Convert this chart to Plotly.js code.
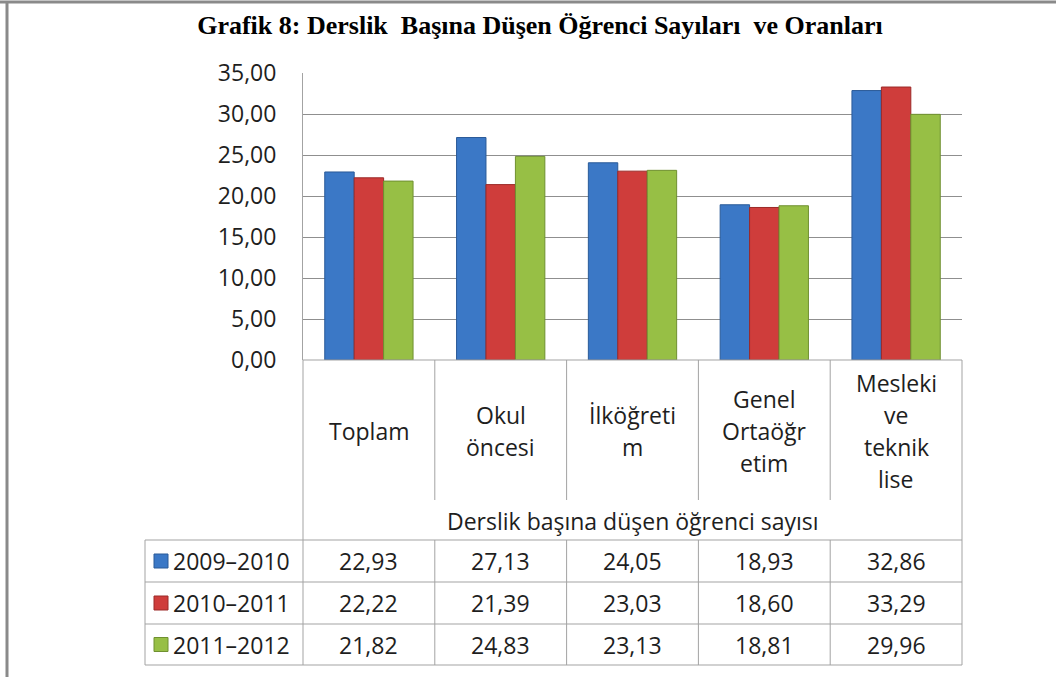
<!DOCTYPE html>
<html>
<head>
<meta charset="utf-8">
<script src="https://cdn.plot.ly/plotly-3.0.1.min.js"></script>
<style>html,body{margin:0;padding:0;background:#fff;}#chart{width:1056px;height:677px;}</style>
</head>
<body>
<div id="chart"></div>
<script>
// ---- data ----
const categories = ['Toplam', 'Okul öncesi', 'İlköğretim', 'Genel Ortaöğretim', 'Mesleki ve teknik lise'];
const categoryLines = [['Toplam'], ['Okul', 'öncesi'], ['İlköğreti', 'm'], ['Genel', 'Ortaöğr', 'etim'], ['Mesleki', 've', 'teknik', 'lise']];
const seriesNames = ['2009–2010', '2010–2011', '2011–2012'];
const values2009 = [22.93, 27.13, 24.05, 18.93, 32.86];
const values2010 = [22.22, 21.39, 23.03, 18.60, 33.29];
const values2011 = [21.82, 24.83, 23.13, 18.81, 29.96];
const yTickValues = [0, 5, 10, 15, 20, 25, 30, 35];
const groupLabel = 'Derslik başına düşen öğrenci sayısı';
const titleText = 'Grafik 8: Derslik  Başına Düşen Öğrenci Sayıları  ve Oranları';

// ---- styles ----
const seriesValues = [values2009, values2010, values2011];
const colors = ['#3b78c6', '#cf3d3b', '#97bf45'];
const edgeColors = ['#2a5a98', '#9b2a28', '#6f9030'];
const W = 1056, H = 677;
const px = x => x / W;
const py = y => 1 - y / H;
const plotL = 303, plotR = 962, plotT = 73, plotB = 360;
const catRowB = 500, groupRowB = 540;
const rowB = [582, 624, 665];
const tableL = 145;
const lineCol = '#a3a3a3';
const textCol = '#1e1e1e';
const FONT = 'Open Sans, Noto Sans, sans-serif';
const FSIZE = 23;
const nCat = categories.length;
const colX = i => plotL + i * (plotR - plotL) / nCat;
const fmt = v => v.toFixed(2).replace('.', ',');

const traces = seriesNames.map((name, s) => ({
  type: 'bar',
  name: name,
  x: categories,
  y: seriesValues[s],
  marker: {color: colors[s], line: {color: edgeColors[s], width: 1}},
  hoverinfo: 'skip'
}));

const shapes = [];
const line = (x0, y0, x1, y1, color, width) => shapes.push({
  type: 'line', xref: 'paper', yref: 'paper',
  x0: px(x0), y0: py(y0), x1: px(x1), y1: py(y1),
  line: {color: color || lineCol, width: width || 1}
});
// outer frame (top and left)
line(0, 2, W, 2, '#8a8a8a', 3);
line(7, 2, 7, H, '#8a8a8a', 3);
// category row
line(plotL, plotB, plotR, plotB);
for (let i = 1; i < nCat; i++) line(colX(i), plotB, colX(i), catRowB);
line(plotL, plotB, plotL, rowB[2]);
line(plotR, plotB, plotR, rowB[2]);
// data rows
line(tableL, groupRowB, plotR, groupRowB);
rowB.forEach(y => line(tableL, y, plotR, y));
line(tableL, groupRowB, tableL, rowB[2]);
for (let i = 1; i < nCat; i++) line(colX(i), groupRowB, colX(i), rowB[2]);

const annotations = [];
const text = (x, y, t, opts) => annotations.push(Object.assign({
  xref: 'paper', yref: 'paper', x: px(x), y: py(y), text: t, showarrow: false,
  xanchor: 'center', yanchor: 'middle', font: {family: FONT, size: FSIZE, color: textCol}
}, opts || {}));

// category labels
const lineGap = 32, catCenter = 431;
categoryLines.forEach((lines, i) => {
  const cx = (colX(i) + colX(i + 1)) / 2;
  const y0 = catCenter - (lines.length - 1) * lineGap / 2;
  lines.forEach((l, k) => text(cx, y0 + k * lineGap, l));
});
text((plotL + plotR) / 2, 521, groupLabel);

// table rows
const rowTops = [groupRowB, rowB[0], rowB[1]];
seriesNames.forEach((name, s) => {
  const cy = (rowTops[s] + rowB[s]) / 2;
  shapes.push({type: 'rect', xref: 'paper', yref: 'paper',
    x0: px(154), x1: px(168), y0: py(cy - 7), y1: py(cy + 7),
    fillcolor: colors[s], line: {color: edgeColors[s], width: 1}});
  text(171, cy, name, {xanchor: 'left'});
  seriesValues[s].forEach((v, i) => text((colX(i) + colX(i + 1)) / 2, cy, fmt(v)));
});

const layout = {
  width: W, height: H,
  margin: {l: 0, r: 0, t: 0, b: 0},
  paper_bgcolor: '#fff', plot_bgcolor: '#fff',
  separators: ',.',
  showlegend: false,
  barmode: 'group', bargap: 0.33, bargroupgap: 0,
  title: {text: titleText, x: px(540), xanchor: 'center', y: py(25), yanchor: 'middle',
          font: {family: 'Liberation Serif, Times New Roman, serif', size: 26, color: '#000', weight: 'bold'}},
  xaxis: {domain: [px(plotL), px(plotR)], showticklabels: false, showgrid: false, zeroline: false,
          showline: false, fixedrange: true},
  yaxis: {domain: [py(plotB), py(plotT)], range: [0, 35], tickvals: yTickValues, tickformat: '.2f',
          showgrid: true, gridcolor: '#8f8f8f', gridwidth: 1, zeroline: false,
          showline: true, linecolor: lineCol, linewidth: 1, ticks: '', ticklabelstandoff: 21,
          tickfont: {family: FONT, size: FSIZE, color: textCol}, fixedrange: true},
  shapes: shapes,
  annotations: annotations
};

Plotly.newPlot('chart', traces, layout, {displayModeBar: false, staticPlot: true});
</script>
</body>
</html>
